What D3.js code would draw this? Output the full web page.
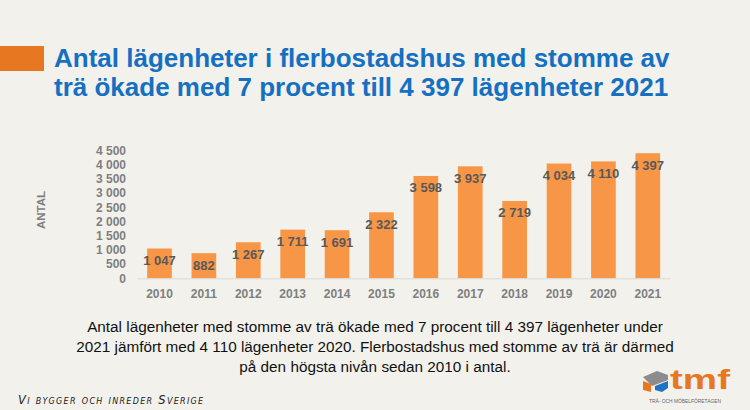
<!DOCTYPE html>
<html><head><meta charset="utf-8">
<script src="https://cdn.jsdelivr.net/npm/d3@7"></script>
<style>
html,body{margin:0;padding:0;background:#f2f1ec;}
svg{display:block;}
</style></head>
<body>
<script>
const years = ["2010","2011","2012","2013","2014","2015","2016","2017","2018","2019","2020","2021"];
const values = [1047, 882, 1267, 1711, 1691, 2322, 3598, 3937, 2719, 4034, 4110, 4397];
const yTicks = [0,500,1000,1500,2000,2500,3000,3500,4000,4500];
const titleLines = ["Antal lägenheter i flerbostadshus med stomme av","trä ökade med 7 procent till 4 397 lägenheter 2021"];
const bodyLines = ["Antal lägenheter med stomme av trä ökade med 7 procent till 4 397 lägenheter under","2021 jämfört med 4 110 lägenheter 2020. Flerbostadshus med stomme av trä är därmed","på den högsta nivån sedan 2010 i antal."];
const yLabel = "ANTAL";

const W=750,H=410;
const svg=d3.select("body").append("svg").attr("width",W).attr("height",H);
svg.append("rect").attr("width",W).attr("height",H).attr("fill","#f2f1ec");

const fmt = v => { const s=String(v); return s.length>3 ? s.slice(0,s.length-3)+" "+s.slice(-3) : s; };

// title
svg.append("rect").attr("x",0).attr("y",46).attr("width",44).attr("height",25).attr("fill","#e87722");
svg.append("g").selectAll("text").data(titleLines).join("text")
  .attr("x",54).attr("y",(d,i)=>67+i*29)
  .attr("font-family","Liberation Sans, Arial, sans-serif").attr("font-weight","bold")
  .attr("font-size",26).attr("fill","#1570c2").text(d=>d);

// chart
const x=d3.scaleBand().domain(years).range([137.3,670]).paddingInner(0.444).paddingOuter(0.222);
const y=d3.scaleLinear().domain([0,4500]).range([278.3,150.3]);

const gy=svg.append("g").attr("transform","translate(126,0)")
  .call(d3.axisLeft(y).tickValues(yTicks).tickSize(0).tickPadding(0).tickFormat(fmt));
gy.select(".domain").remove();
gy.selectAll("text").attr("font-family","Liberation Sans, Arial, sans-serif").attr("font-weight","bold")
  .attr("font-size",12).attr("fill","#7f7f7f");

svg.append("g").selectAll("rect").data(values).join("rect")
  .attr("x",(d,i)=>x(years[i])).attr("width",x.bandwidth())
  .attr("y",d=>y(d)).attr("height",d=>y(0)-y(d)).attr("fill","#f79646");

const gx=svg.append("g").attr("transform","translate(0,278.3)")
  .call(d3.axisBottom(x).tickSize(0).tickPadding(11));
gx.select(".domain").attr("stroke","#d9d9d9").attr("stroke-width",1);
gx.selectAll("text").attr("font-family","Liberation Sans, Arial, sans-serif").attr("font-weight","bold")
  .attr("font-size",12).attr("fill","#7f7f7f");

svg.append("g").selectAll("text").data(values).join("text")
  .attr("x",(d,i)=>x(years[i])+x.bandwidth()/2).attr("y",d=>y(d)+16.5)
  .attr("text-anchor","middle")
  .attr("font-family","Liberation Sans, Arial, sans-serif").attr("font-weight","bold")
  .attr("font-size",13).attr("fill","#595959").text(fmt);

svg.append("text").attr("transform","translate(45,210) rotate(-90)").attr("text-anchor","middle")
  .attr("font-family","Liberation Sans, Arial, sans-serif").attr("font-weight","bold")
  .attr("font-size",11.5).attr("fill","#7f7f7f").text(yLabel);

// body text
svg.append("g").selectAll("text").data(bodyLines).join("text")
  .attr("x",375).attr("y",(d,i)=>332+i*20).attr("text-anchor","middle")
  .attr("font-family","Liberation Sans, Arial, sans-serif").attr("font-size",15.3)
  .attr("fill","#111").text(d=>d);

// footer
svg.append("text").attr("x",18).attr("y",404)
  .attr("font-family","DejaVu Sans, sans-serif").attr("font-style","italic").attr("font-variant","small-caps")
  .attr("font-size",11.5).attr("fill","#222").attr("letter-spacing",1.3).text("Vi bygger och inreder Sverige");

// logo
const lg=svg.append("g");
lg.append("path").attr("d","M643,377 L657,371 L668,375 L668,380 L652,386 Z").attr("fill","#8c8c8c");
lg.append("path").attr("d","M643,381 L651,384 L651,392 L643,390 Z").attr("fill","#e87722");
lg.append("path").attr("d","M655,386 L668,381 L668,388 L662,392 L655,390 Z").attr("fill","#1f73c4");
lg.append("text").attr("x",670).attr("y",389).attr("font-family","Liberation Sans, Arial, sans-serif")
  .attr("font-weight","bold").attr("font-size",27).attr("fill","#e87722")
  .attr("textLength",60).attr("lengthAdjust","spacingAndGlyphs").text("tmf");
lg.append("text").attr("x",685).attr("y",403).attr("text-anchor","middle").attr("font-family","Liberation Sans, Arial, sans-serif")
  .attr("font-size",5).attr("fill","#666").attr("textLength",72).attr("lengthAdjust","spacingAndGlyphs")
  .text("TRÄ- OCH MÖBELFÖRETAGEN");
</script>
</body></html>
